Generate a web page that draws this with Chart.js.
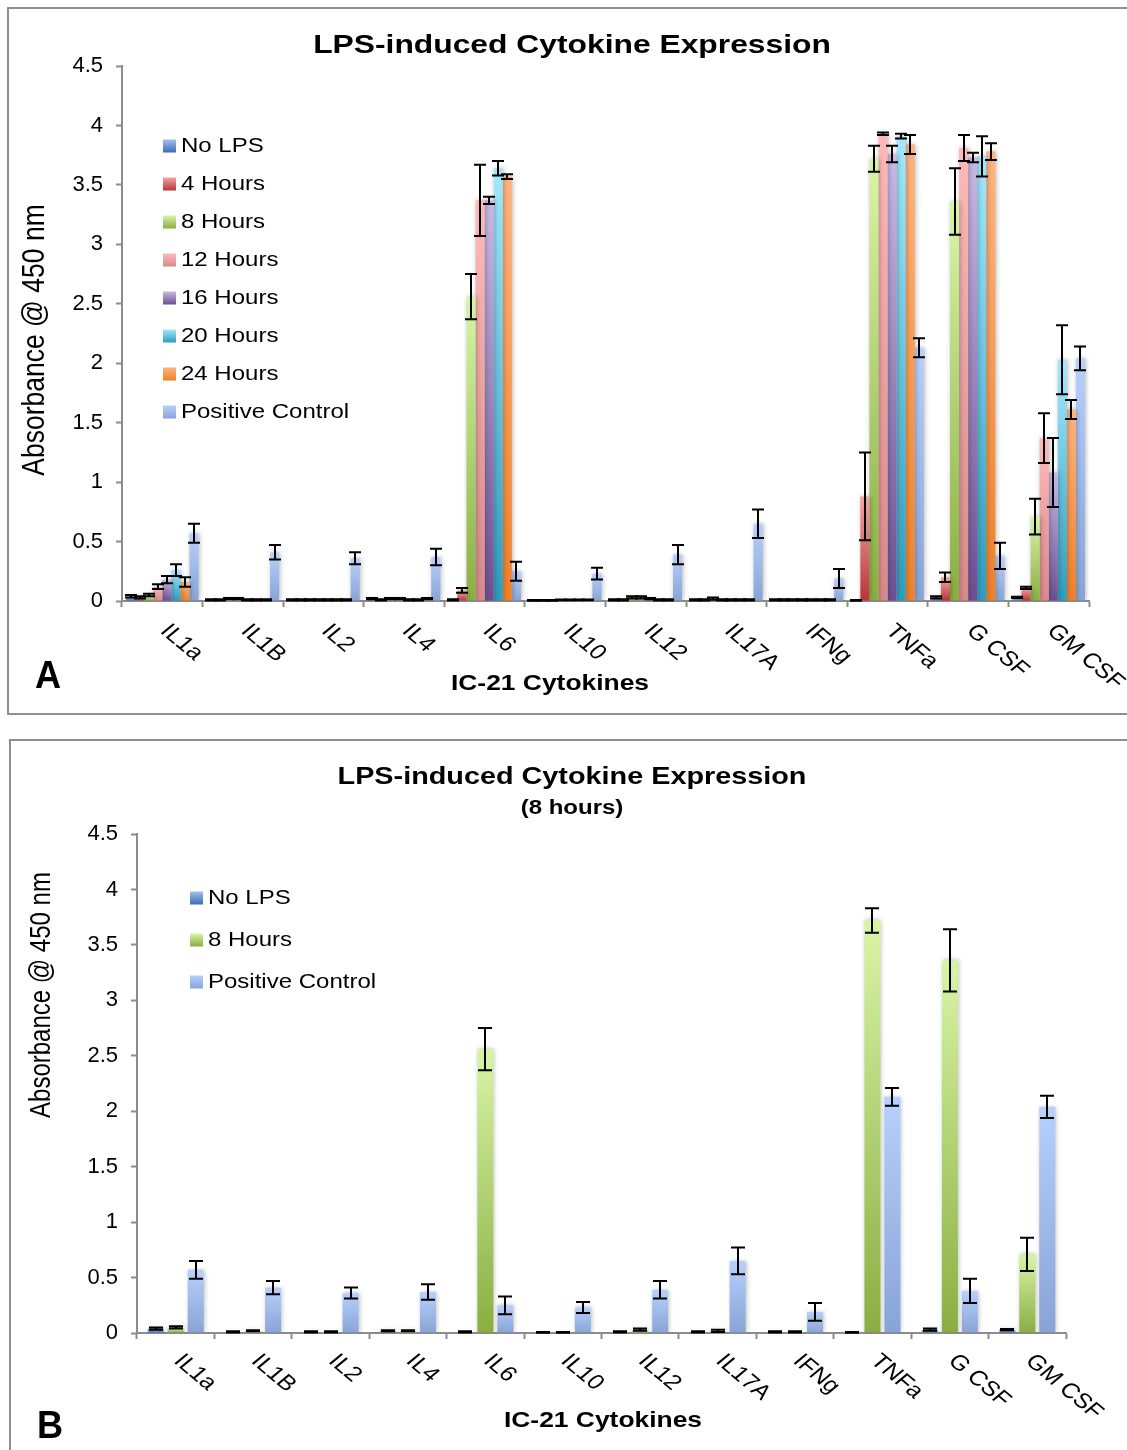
<!DOCTYPE html>
<html>
<head>
<meta charset="utf-8">
<title>LPS-induced Cytokine Expression</title>
<script src="https://cdn.jsdelivr.net/npm/chart.js@4.4.1/dist/chart.umd.min.js"></script>
<style>
  html, body { margin: 0; padding: 0; background: #ffffff; overflow: hidden; width: 1127px; height: 1450px; }
  canvas { position: absolute; left: 0; }
  #chartA { top: 0; width: 1127px; height: 720px; }
  #chartB { top: 720px; width: 1127px; height: 730px; }
  .frame { position: absolute; border: 2px solid #8e8e8e; box-sizing: border-box; pointer-events: none; }
  #frameA { left: 7px; top: 7px; width: 1140px; height: 708px; }
  #frameB { left: 9px; top: 739px; width: 1140px; height: 730px; }
</style>
</head>
<body>
<canvas id="chartA" width="1127" height="720"></canvas>
<canvas id="chartB" width="1127" height="730"></canvas>
<div class="frame" id="frameA"></div>
<div class="frame" id="frameB"></div>
<script>
// ---- data ----
const categories = ['IL1a', 'IL1B', 'IL2', 'IL4', 'IL6', 'IL10', 'IL12', 'IL17A', 'IFNg', 'TNFa', 'G CSF', 'GM CSF'];
const seriesNames = ['No LPS', '4 Hours', '8 Hours', '12 Hours', '16 Hours', '20 Hours', '24 Hours', 'Positive Control'];
const yTickLabels = ['0', '0.5', '1', '1.5', '2', '2.5', '3', '3.5', '4', '4.5'];

// mean absorbance @ 450 nm
const noLPS    = [0.04, 0.01, 0.01, 0.02, 0.01, 0.005, 0.01, 0.01, 0.01, 0.005, 0.03, 0.03];
const hours4   = [0.03, 0.01, 0.01, 0.01, 0.09, 0.005, 0.01, 0.01, 0.01, 0.88, 0.20, 0.11];
const hours8   = [0.05, 0.02, 0.01, 0.02, 2.56, 0.005, 0.03, 0.02, 0.01, 3.72, 3.36, 0.71];
const hours12  = [0.12, 0.02, 0.01, 0.02, 3.37, 0.01, 0.03, 0.01, 0.01, 3.93, 3.81, 1.37];
const hours16  = [0.18, 0.01, 0.01, 0.01, 3.37, 0.01, 0.02, 0.01, 0.01, 3.76, 3.73, 1.08];
const hours20  = [0.26, 0.01, 0.01, 0.01, 3.64, 0.01, 0.01, 0.01, 0.01, 3.91, 3.74, 2.03];
const hours24  = [0.16, 0.01, 0.01, 0.02, 3.57, 0.01, 0.01, 0.01, 0.01, 3.84, 3.78, 1.61];
const posCtrl  = [0.57, 0.41, 0.36, 0.37, 0.25, 0.23, 0.39, 0.65, 0.19, 2.13, 0.38, 2.04];

// error (+/-)
const errNoLPS   = [0.01, 0.005, 0.005, 0.005, 0.005, 0.003, 0.005, 0.005, 0.005, 0.003, 0.01, 0.005];
const errHours4  = [0.01, 0.005, 0.005, 0.005, 0.02, 0.003, 0.005, 0.005, 0.005, 0.37, 0.04, 0.01];
const errHours8  = [0.01, 0.005, 0.005, 0.005, 0.19, 0.003, 0.01, 0.01, 0.005, 0.11, 0.28, 0.15];
const errHours12 = [0.02, 0.005, 0.005, 0.005, 0.30, 0.003, 0.01, 0.005, 0.005, 0.01, 0.11, 0.21];
const errHours16 = [0.03, 0.005, 0.005, 0.005, 0.03, 0.003, 0.005, 0.005, 0.005, 0.07, 0.04, 0.29];
const errHours20 = [0.05, 0.005, 0.005, 0.005, 0.06, 0.003, 0.005, 0.005, 0.005, 0.02, 0.17, 0.29];
const errHours24 = [0.04, 0.005, 0.005, 0.005, 0.02, 0.003, 0.005, 0.005, 0.005, 0.08, 0.07, 0.08];
const errPosCtrl = [0.08, 0.06, 0.05, 0.07, 0.08, 0.05, 0.08, 0.12, 0.08, 0.08, 0.11, 0.10];

const seriesValues = [noLPS, hours4, hours8, hours12, hours16, hours20, hours24, posCtrl];
const seriesErrors = [errNoLPS, errHours4, errHours8, errHours12, errHours16, errHours20, errHours24, errPosCtrl];

// ---- styling ----
const gradTop    = ['#a3c0f0', '#f5a4a3', '#d8f5a6', '#fdbab9', '#c9b9e5', '#a2e8fd', '#ffb47f', '#b7d0fc'];
const gradBottom = ['#3d6db2', '#b93536', '#8aae42', '#d88a89', '#6c4f93', '#2f9cbc', '#ef8128', '#88a4d6'];
const FONT = '"Liberation Sans", Arial, Helvetica, sans-serif';
const STRETCH = 1.2;

function barGradient(top, bottom) {
  return (c) => {
    const chart = c.chart;
    const ys = chart.scales && chart.scales.y;
    if (!ys || c.type !== 'data' || !chart.chartArea) return bottom;
    const v = c.parsed ? c.parsed.y : c.raw;
    const y0 = ys.getPixelForValue(0);
    const y1 = ys.getPixelForValue(v);
    if (!isFinite(y1) || Math.abs(y0 - y1) < 0.5) return bottom;
    const g = chart.ctx.createLinearGradient(0, y1, 0, y0);
    g.addColorStop(0, top);
    g.addColorStop(1, bottom);
    return g;
  };
}

function putText(ctx, text, x, y, size, bold, align, sx, rot) {
  ctx.save();
  ctx.translate(x, y);
  ctx.scale(sx, 1);
  if (rot) ctx.rotate(rot);
  ctx.font = (bold ? 'bold ' : '') + size + 'px ' + FONT;
  ctx.fillStyle = '#000000';
  ctx.textAlign = align;
  ctx.textBaseline = 'middle';
  ctx.fillText(text, 0, 0);
  ctx.restore();
}

// shadows under bars, error bars, and the text furniture around the plot
const decor = {
  id: 'decor',
  beforeDatasetsDraw(chart) {
    const ctx = chart.ctx;
    ctx.save();
    ctx.shadowColor = 'rgba(0,0,0,0.28)';
    ctx.shadowBlur = 5;
    ctx.shadowOffsetX = 1;
    ctx.shadowOffsetY = 0;
  },
  afterDatasetsDraw(chart, args, o) {
    const ctx = chart.ctx;
    ctx.restore();
    const ys = chart.scales.y;
    ctx.save();
    ctx.strokeStyle = '#000000';
    ctx.lineWidth = o.errWidth;
    chart.data.datasets.forEach((ds, di) => {
      const meta = chart.getDatasetMeta(di);
      meta.data.forEach((bar, i) => {
        const v = ds.data[i];
        const e = ds.errors[i];
        const x = Math.round(bar.x);
        const yHi = ys.getPixelForValue(v + e);
        const yLo = ys.getPixelForValue(v - e);
        const h = o.cap / 2;
        ctx.beginPath();
        ctx.moveTo(x, yHi); ctx.lineTo(x, yLo);
        ctx.moveTo(x - h, yHi); ctx.lineTo(x + h, yHi);
        ctx.moveTo(x - h, yLo); ctx.lineTo(x + h, yLo);
        ctx.stroke();
      });
    });
    ctx.restore();
  },
  afterDraw(chart, args, o) {
    const ctx = chart.ctx;
    const area = chart.chartArea;
    const xs = chart.scales.x;

    putText(ctx, o.title.text, o.title.x, o.title.y, o.title.size, true, 'center', STRETCH);
    if (o.subtitle) putText(ctx, o.subtitle.text, o.subtitle.x, o.subtitle.y, o.subtitle.size, true, 'center', STRETCH);
    putText(ctx, o.yTitle.text, o.yTitle.x, o.yTitle.y, o.yTitle.size, false, 'center', STRETCH, -Math.PI / 2);
    putText(ctx, o.xTitle.text, o.xTitle.x, o.xTitle.y, o.xTitle.size, true, 'center', STRETCH);
    putText(ctx, o.letter.text, o.letter.x, o.letter.y, o.letter.size, true, 'center', 0.95);

    // rotated category labels
    chart.data.labels.forEach((lab, i) => {
      const cx = xs.getPixelForValue(i);
      putText(ctx, lab, cx + o.xLabels.dx, area.bottom + o.xLabels.dy, o.xLabels.size, false, 'left', STRETCH, Math.PI / 4);
    });

    // legend
    const L = o.legend;
    chart.data.datasets.forEach((ds, i) => {
      const yc = L.y + i * L.spacing;
      const top = yc - L.box / 2;
      const g = ctx.createLinearGradient(0, top, 0, top + L.box);
      g.addColorStop(0, ds.swatchTop);
      g.addColorStop(1, ds.swatchBottom);
      ctx.save();
      ctx.fillStyle = g;
      ctx.fillRect(L.x, top, L.box, L.box);
      ctx.restore();
      putText(ctx, ds.label, L.textX, yc, L.size, false, 'left', STRETCH);
    });
  }
};

function makeDatasets(indices, catPct, barPct) {
  return indices.map(i => ({
    label: seriesNames[i],
    data: seriesValues[i],
    errors: seriesErrors[i],
    swatchTop: gradTop[i],
    swatchBottom: gradBottom[i],
    backgroundColor: barGradient(gradTop[i], gradBottom[i]),
    borderWidth: 0,
    categoryPercentage: catPct,
    barPercentage: barPct
  }));
}

function makeOptions(padding, yWidth, decorOpts) {
  return {
    responsive: false,
    devicePixelRatio: 1,
    animation: false,
    events: [],
    layout: { padding: padding },
    plugins: {
      legend: { display: false },
      title: { display: false },
      tooltip: { enabled: false },
      decor: decorOpts
    },
    scales: {
      x: {
        type: 'category',
        z: 1,
        border: { display: true, color: '#8c8c8c', width: 2 },
        grid: { display: true, offset: true, drawOnChartArea: false, drawTicks: true, tickLength: 6, tickColor: '#8c8c8c', tickWidth: 2, color: '#8c8c8c' },
        ticks: { display: false },
        afterFit: (s) => { s.height = 14; }
      },
      y: {
        min: 0,
        max: 4.5,
        border: { display: true, color: '#8c8c8c', width: 2 },
        grid: { display: true, drawOnChartArea: false, drawTicks: true, tickLength: 6, tickColor: '#8c8c8c', tickWidth: 2, color: '#8c8c8c' },
        ticks: {
          stepSize: 0.5,
          autoSkip: false,
          padding: 13,
          color: '#000000',
          font: { family: FONT, size: 22 },
          callback: (v, i) => yTickLabels[i]
        },
        afterFit: (s) => { s.width = yWidth; }
      }
    }
  };
}

// Panel A: all time points
new Chart(document.getElementById('chartA'), {
  type: 'bar',
  data: { labels: categories, datasets: makeDatasets([0, 1, 2, 3, 4, 5, 6, 7], 0.9, 1.0) },
  options: makeOptions({ left: 50, right: 38, top: 66, bottom: 105 }, 72, {
    title: { text: 'LPS-induced Cytokine Expression', x: 572, y: 46, size: 26.5 },
    yTitle: { text: 'Absorbance @ 450 nm', x: 35, y: 340, size: 26.5 },
    xTitle: { text: 'IC-21 Cytokines', x: 550, y: 684, size: 22 },
    letter: { text: 'A', x: 48, y: 678, size: 38 },
    xLabels: { dx: 2, dy: 27, size: 21 },
    legend: { x: 163, textX: 181, y: 146, spacing: 38, box: 13, size: 20 },
    errWidth: 2,
    cap: 12
  }),
  plugins: [decor]
});

// Panel B: 8 hours against controls
new Chart(document.getElementById('chartB'), {
  type: 'bar',
  data: { labels: categories, datasets: makeDatasets([0, 2, 7], 0.775, 0.8) },
  options: makeOptions({ left: 50, right: 61, top: 114, bottom: 103 }, 87, {
    title: { text: 'LPS-induced Cytokine Expression', x: 572, y: 57, size: 24 },
    subtitle: { text: '(8 hours)', x: 572, y: 88, size: 20 },
    yTitle: { text: 'Absorbance @ 450 nm', x: 42, y: 275, size: 24 },
    xTitle: { text: 'IC-21 Cytokines', x: 603, y: 701, size: 22 },
    letter: { text: 'B', x: 50, y: 708, size: 38 },
    xLabels: { dx: 2, dy: 25, size: 21 },
    legend: { x: 190, textX: 208, y: 178, spacing: 42, box: 13, size: 20 },
    errWidth: 2,
    cap: 14
  }),
  plugins: [decor]
});
</script>
</body>
</html>
